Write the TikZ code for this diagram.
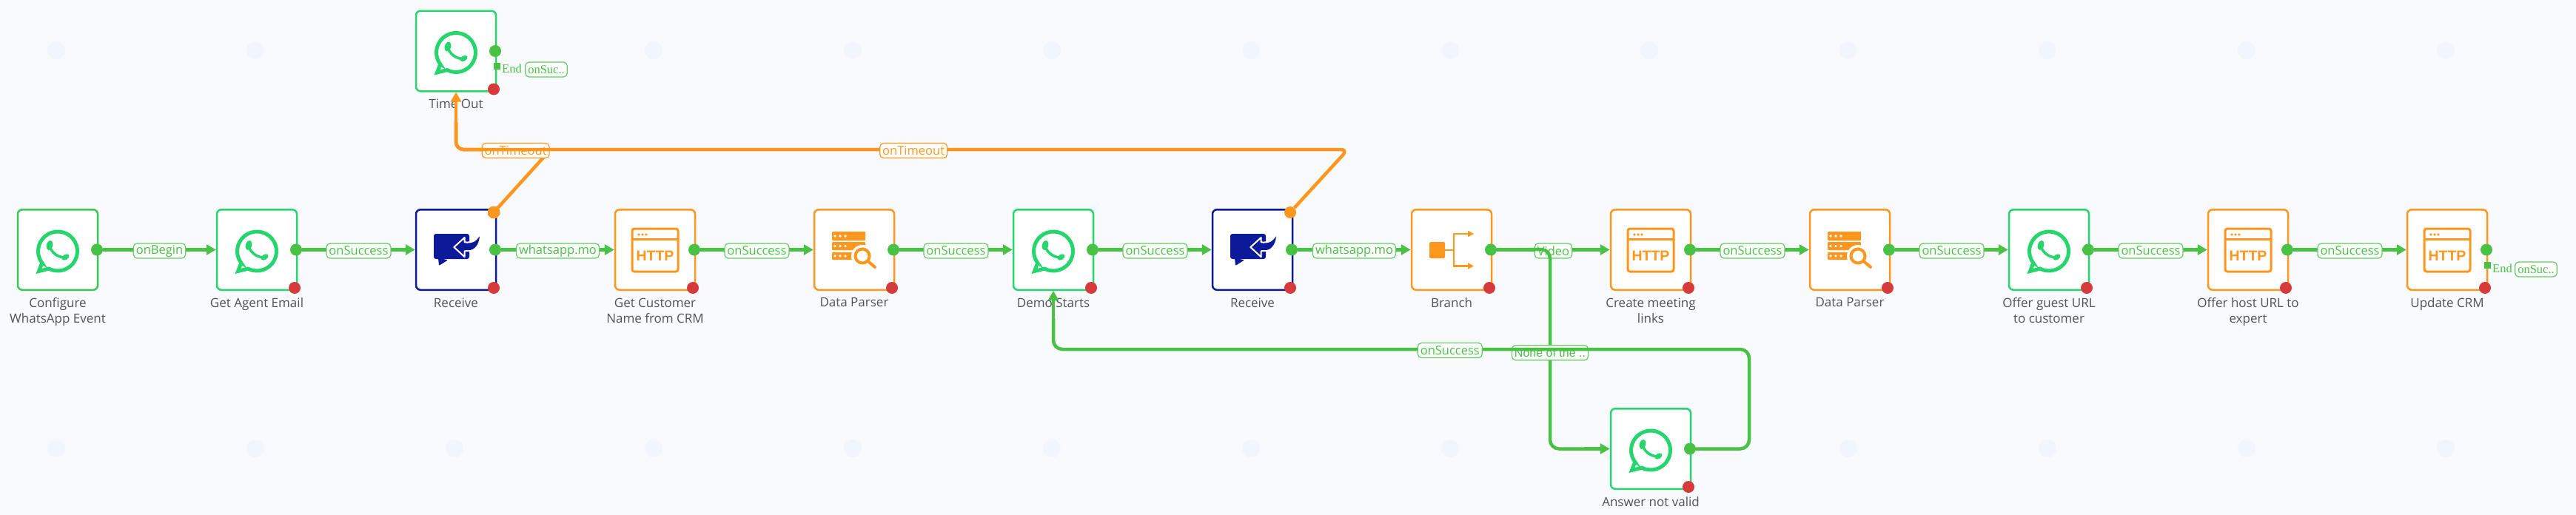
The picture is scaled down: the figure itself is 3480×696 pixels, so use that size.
\documentclass[tikz,border=0pt]{standalone}
\usepackage{fontspec}
\setmainfont{Open Sans}
\newfontfamily\serifend{Liberation Serif}
\newfontfamily\arialend{Liberation Sans}
\usetikzlibrary{arrows.meta}
\definecolor{PageBg}{HTML}{F9FAFD}
\definecolor{DotBg}{HTML}{F1F5FE}
\definecolor{WaGreen}{HTML}{26D56D}
\definecolor{OkGreen}{HTML}{49C145}
\definecolor{ErrRed}{HTML}{D63A3A}
\definecolor{HttpOrange}{HTML}{FF961E}
\definecolor{MsgBlue}{HTML}{0C1A9A}
\definecolor{CaptionGrey}{HTML}{50525A}
\tikzset{
  pics/WaIcon/.style={code={
    \draw[WaGreen,line width=5pt,miter limit=10] (-21.2,17.9) -- (-25.5,29) -- (-12,25.6)
      arc[start angle=117,end angle=-217,radius=26.5] -- cycle;
    \draw[WaGreen,line width=3.6pt] (-11,-5) .. controls (-9,3) and (-1,10) .. (9,10.5);
    \fill[WaGreen,rotate around={-15:(-11,-6)}] (-11,-6) ellipse [x radius=4.2,y radius=6.5];
    \fill[WaGreen,rotate around={30:(10.5,10)}] (10.5,10) ellipse [x radius=5.5,y radius=3.6];
  }},
  pics/HttpIcon/.style={code={
    \draw[HttpOrange,line width=3pt,rounded corners=3pt] (-31,-28.5) rectangle (31,29.5);
    \draw[HttpOrange,line width=3pt] (-31,-14.5) -- (31,-14.5);
    \foreach \dx in {-22,-17,-12}
      \fill[HttpOrange] (\dx,-20.5) circle (1.8);
    \node[text=HttpOrange,inner sep=0pt,font=\arialend\bfseries\fontsize{19.5}{20}\selectfont] (txt) at (0,8.5) {HTTP};
  }},
  pics/ParserIcon/.style={code={
    \fill[HttpOrange,rounded corners=1pt] (-30,-24.5) rectangle (15,-12.5);
    \fill[HttpOrange,rounded corners=1pt] (-30,-10.5) rectangle (15,0.5);
    \fill[HttpOrange,rounded corners=1pt] (-30,3.5) rectangle (15,13.5);
    \foreach \dx in {-26,-19,-12}{
      \fill[white] (\dx,-18.5) circle (1.9);
      \fill[white] (\dx,-5) circle (1.9);
      \fill[white] (\dx,8.5) circle (1.9);
    }
    \fill[white] (11,8.5) circle (15);
    \draw[HttpOrange,line width=4pt] (11,8.5) circle (9.5);
    \draw[HttpOrange,line width=4pt,line cap=round] (18.5,15.5) -- (28,23.5);
  }},
  pics/BranchIcon/.style={code={
    \fill[HttpOrange,rounded corners=2pt] (-30,-10.5) rectangle (-9,11.5);
    \draw[HttpOrange,line width=2.5pt] (-9,0.5) -- (3,0.5);
    \draw[HttpOrange,line width=2.5pt,-{Triangle[length=8pt,width=8pt]}] (3,0.5) -- (3,-21.5) -- (30,-21.5);
    \draw[HttpOrange,line width=2.5pt,-{Triangle[length=8pt,width=8pt]}] (3,0.5) -- (3,22) -- (30,22);
  }},
  pics/MsgIcon/.style={code={
    \fill[MsgBlue,rounded corners=3pt] (-30,-21.5) rectangle (18,12.5);
    \fill[MsgBlue,rounded corners=1pt] (-24,11) -- (-23,21.5) -- (-11,14) -- cycle;
    \draw[white,fill=MsgBlue,line width=2pt,line join=round] (-2.7,-3.5) -- (11.7,-16.5) -- (11.7,-10.2)
      .. controls (20,-9) and (28,-12) .. (32,-18.2) .. controls (31,-6) and (24,1) .. (17,1.5)
      -- (11.7,1.8) -- (11.7,9.8) -- cycle;
    \fill[white] (32.5,-19.5) -- (34,-8) -- (29,-8) -- cycle;
    \fill[MsgBlue] (32,-18.2) .. controls (31,-6) and (24,1) .. (17,0.5) -- (17,-8) .. controls (22,-8) and (28,-12) .. (32,-18.2);
  }}
}
% box, caption and success port of one step
\newcommand{\Step}[5]{
  \node[BoxStyle,draw=#4] (#1) at (#2,#3) {};
  \node[CaptionStyle] (#1Text) at ([yshift=-9.5pt]#1.south) {#5};
  \node[PortStyle,fill=OkGreen] (#1Ok) at ([xshift=53pt]#1.center) {};
}
\newcommand{\ErrPort}[1]{
  \node[PortStyle,fill=ErrRed] (#1Err) at ([xshift=51pt,yshift=-51.5pt]#1.center) {};
}
\begin{document}
\begin{tikzpicture}[x=1pt,y=-1pt]
  \tikzstyle{BoxStyle}=[rectangle,fill=white,line width=2.5pt,rounded corners=6pt,
    minimum width=108pt,minimum height=108.5pt,inner sep=0pt]
  \tikzstyle{CaptionStyle}=[anchor=north,align=center,inner sep=0pt,text=CaptionGrey,
    font=\fontsize{17}{21}\selectfont]
  \tikzstyle{PortStyle}=[circle,minimum size=16pt,inner sep=0pt]
  \tikzstyle{EdgeLine}=[OkGreen,line width=4.5pt,rounded corners=12pt]
  \tikzstyle{EdgeStyle}=[EdgeLine,-{Triangle[length=13pt,width=14pt]}]
  \tikzstyle{TimeoutLine}=[HttpOrange,line width=4.5pt,rounded corners=10pt]
  \tikzstyle{TimeoutStyle}=[TimeoutLine,-{Triangle[length=13pt,width=14pt]}]
  \tikzstyle{LabelStyle}=[draw=OkGreen!85,line width=1.2pt,fill=white,text=OkGreen,rounded corners=5pt,
    minimum height=20pt,inner sep=0pt,inner xsep=3.5pt,yshift=-1.5pt,
    font=\fontsize{16.5}{18}\selectfont]
  \tikzstyle{TimeoutLabel}=[LabelStyle,draw=HttpOrange,text=HttpOrange]
  \tikzstyle{EndLabel}=[LabelStyle,yshift=0pt,font=\serifend\fontsize{16.5}{18}\selectfont]
  \tikzstyle{EndMark}=[rectangle,fill=OkGreen,minimum size=9pt,inner sep=0pt]
  \tikzstyle{EndText}=[text=OkGreen,inner sep=0pt,anchor=west,font=\serifend\fontsize{16.5}{18}\selectfont]

  \fill[PageBg] (0,0) rectangle (3480,696);
  \useasboundingbox (0,0) rectangle (3480,696);
  \foreach \k in {0,...,12}{
    \fill[DotBg] (76+269*\k,68) circle (12);
    \fill[DotBg] (76+269*\k,606) circle (12);
  }

  \Step{Cfg}{78}{337.5}{OkGreen!60!WaGreen}{Configure\\WhatsApp Event}
  \Step{Agent}{347}{337.5}{WaGreen}{Get Agent Email}
  \Step{RecvA}{616}{337.5}{MsgBlue}{Receive}
  \Step{Cust}{885}{337.5}{HttpOrange}{Get Customer\\Name from CRM}
  \Step{ParserA}{1154}{337.5}{HttpOrange}{Data Parser}
  \Step{Demo}{1423}{337.5}{WaGreen}{Demo Starts}
  \Step{RecvB}{1692}{337.5}{MsgBlue}{Receive}
  \Step{Branch}{1961}{337.5}{HttpOrange}{Branch}
  \Step{Meet}{2230}{337.5}{HttpOrange}{Create meeting\\links}
  \Step{ParserB}{2499}{337.5}{HttpOrange}{Data Parser}
  \Step{Guest}{2768}{337.5}{WaGreen}{Offer guest URL\\to customer}
  \Step{Host}{3037}{337.5}{HttpOrange}{Offer host URL to\\expert}
  \Step{Crm}{3306}{337.5}{HttpOrange}{Update CRM}
  \Step{TimeOut}{616}{69}{WaGreen}{Time Out}
  \Step{Invalid}{2230}{606.5}{WaGreen}{Answer not valid}
  \foreach \n in {Agent,RecvA,Cust,ParserA,Demo,RecvB,Branch,Meet,ParserB,Guest,Host,Crm,TimeOut,Invalid}
    \ErrPort{\n}
  \node[PortStyle,fill=HttpOrange] (RecvAOut) at ([xshift=51pt,yshift=50.5pt]RecvA.center) {};
  \node[PortStyle,fill=HttpOrange] (RecvBOut) at ([xshift=51pt,yshift=50.5pt]RecvB.center) {};

  \pic at (Cfg) {WaIcon};
  \pic at (Agent) {WaIcon};
  \pic at (RecvA) {MsgIcon};
  \pic at (Cust) {HttpIcon};
  \pic at (ParserA) {ParserIcon};
  \pic at (Demo) {WaIcon};
  \pic at (RecvB) {MsgIcon};
  \pic at (Branch) {BranchIcon};
  \pic at (Meet) {HttpIcon};
  \pic at (ParserB) {ParserIcon};
  \pic at (Guest) {WaIcon};
  \pic at (Host) {HttpIcon};
  \pic at (Crm) {HttpIcon};
  \pic at (TimeOut) {WaIcon};
  \pic at (Invalid) {WaIcon};

  \node[EndMark] (TimeOutEnd) at (671,89) {};
  \node[EndText] (TimeOutEndText) at (678,93) {End};
  \node[EndLabel] (TimeOutEndLabel) at (738,92.5) {onSuc..};
  \node[EndMark] (CrmEnd) at (3360,358) {};
  \node[EndText] (CrmEndText) at (3367,363) {End};
  \node[EndLabel] (CrmEndLabel) at (3426,362.5) {onSuc..};

  \draw[EdgeStyle] (CfgOk) -- node[LabelStyle] {onBegin} (Agent);
  \draw[EdgeStyle] (AgentOk) -- node[LabelStyle] {onSuccess} (RecvA);
  \draw[EdgeStyle] (RecvAOk) -- node[LabelStyle] {whatsapp.mo} (Cust);
  \draw[EdgeStyle] (CustOk) -- node[LabelStyle] {onSuccess} (ParserA);
  \draw[EdgeStyle] (ParserAOk) -- node[LabelStyle] {onSuccess} (Demo);
  \draw[EdgeStyle] (DemoOk) -- node[LabelStyle] {onSuccess} (RecvB);
  \draw[EdgeStyle] (RecvBOk) -- node[LabelStyle] {whatsapp.mo} (Branch);
  \draw[EdgeStyle] (BranchOk) -- node[LabelStyle] {Video} (Meet);
  \draw[EdgeStyle] (MeetOk) -- node[LabelStyle] {onSuccess} (ParserB);
  \draw[EdgeStyle] (ParserBOk) -- node[LabelStyle] {onSuccess} (Guest);
  \draw[EdgeStyle] (GuestOk) -- node[LabelStyle] {onSuccess} (Host);
  \draw[EdgeStyle] (HostOk) -- node[LabelStyle] {onSuccess} (Crm);

  \coordinate (TimeTurn) at (616,202);
  \coordinate (TimeFoot) at (616,165);
  \coordinate (RecvATurn) at (744,202);
  \coordinate (RecvBTurn) at (1821,202);
  \draw[TimeoutLine] (RecvAOut) -- (RecvATurn) -- node[TimeoutLabel,pos=0.37] {onTimeout} (TimeTurn) -- (TimeFoot);
  \draw[TimeoutLine] (RecvBOut) -- (RecvBTurn) -- node[TimeoutLabel,pos=0.487] {onTimeout} (TimeTurn) -- (TimeFoot);
  \draw[TimeoutStyle] (TimeFoot) -- (TimeOut);

  \coordinate (NoneTurnA) at (2094,337);
  \coordinate (NoneTurnB) at (2094,606.5);
  \coordinate (NoneFoot) at (2140,606.5);
  \draw[EdgeLine] (BranchOk) -- (NoneTurnA) -- node[LabelStyle,pos=0.513,font=\arialend\fontsize{16}{18}\selectfont] {None of the ..} (NoneTurnB) -- (NoneFoot);
  \draw[EdgeStyle] (NoneFoot) -- (Invalid);

  \coordinate (BackTurnA) at (2363,606.5);
  \coordinate (BackTurnB) at (2363,472);
  \coordinate (BackTurnC) at (1423,472);
  \coordinate (BackFoot) at (1423,430);
  \draw[EdgeLine] (InvalidOk) -- (BackTurnA) -- (BackTurnB) -- node[LabelStyle,pos=0.43] {onSuccess} (BackTurnC) -- (BackFoot);
  \draw[EdgeStyle] (BackFoot) -- (Demo);
\end{tikzpicture}
\end{document}
